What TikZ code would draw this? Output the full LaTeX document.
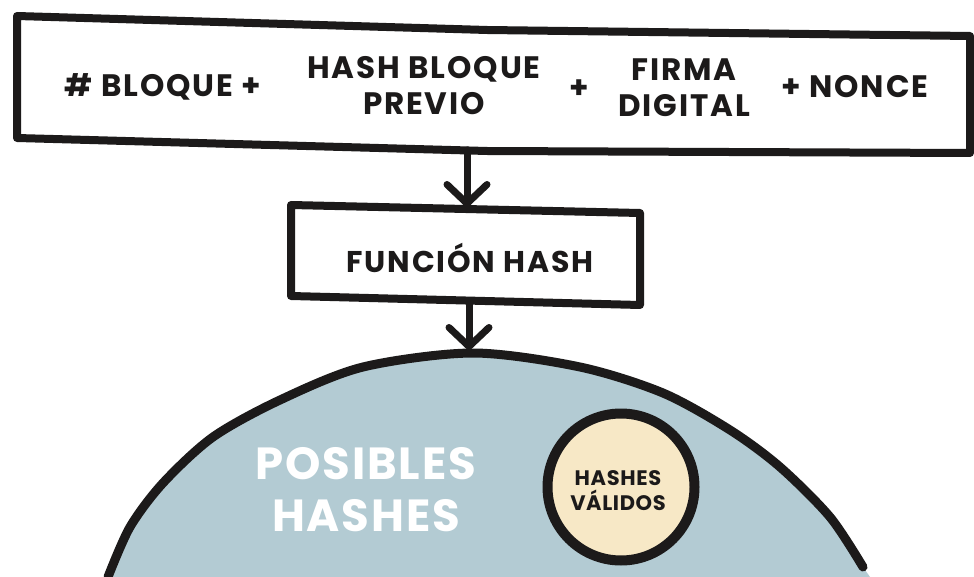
\documentclass[tikz,border=0pt]{standalone}
\usepackage{fontspec}
\setmainfont{Poppins}
\usetikzlibrary{arrows.meta}
\definecolor{domecol}{HTML}{B3CBD3}
\definecolor{creamcol}{HTML}{F7E8C6}
\definecolor{inkcol}{HTML}{1C1A1A}
\begin{document}
\begin{tikzpicture}[x=1pt,y=-1pt,
  lbl/.style={font=\bfseries\fontsize{31}{36}\selectfont\addfontfeatures{LetterSpace=6}, text=inkcol, align=center, inner sep=0pt},
  sketch/.style={draw=inkcol, line width=8pt, line join=round, line cap=round},
  arr/.style={draw=inkcol, line width=7pt, line cap=round, -{Straight Barb[length=19pt,width=40pt,round]}}]
\useasboundingbox (0,0) rectangle (974,577);
\fill[white] (0,0) rectangle (974,577);

% top box
\draw[sketch] (17,16) -- (487,30) -- (970,36) -- (970,153) -- (487,151) -- (17,138) -- cycle;
\node[lbl] (bloque) at (163,87) {\# BLOQUE +};
\node[lbl] (hashprev) at (424,86) {HASH BLOQUE\\PREVIO};
\node[lbl] (plus) at (579,89) {+};
\node[lbl] (firma) at (684,88) {FIRMA\\DIGITAL};
\node[lbl] (nonce) at (855,87) {+ NONCE};
\coordinate (topbot) at (467,150);

% function box
\draw[sketch] (291,205) -- (640,213) -- (640,305) -- (291,296) -- cycle;
\node[lbl, font=\bfseries\fontsize{30}{32}\selectfont\addfontfeatures{LetterSpace=6}] (func) at (470,258) {FUNCIÓN HASH};
\coordinate (functop) at (467,207);
\coordinate (funcbot) at (469,302);

% dome
\fill[domecol] plot[smooth] coordinates {(108,577) (130,527) (163,483) (213,437) (280,400) (363,367) (473,353) (580,367) (663,393) (730,430) (780,467) (830,517) (863,567)} -- (870,577) -- cycle;
\draw[draw=inkcol, line width=9pt, line cap=round] plot[smooth] coordinates {(108,577) (130,527) (163,483) (213,437) (280,400) (363,367) (473,353) (580,367) (663,393) (730,430) (780,467) (830,517) (863,567)};
\coordinate (dometop) at (469,350);

\node[font=\bfseries\fontsize{45}{52}\selectfont\addfontfeatures{LetterSpace=4}, text=white, align=center, inner sep=0pt] (posibles) at (366,490) {POSIBLES\\HASHES};

% valid circle
\node[circle, draw=inkcol, line width=10pt, fill=creamcol, minimum size=147pt, inner sep=0pt] (valid) at (621,487) {};
\node[lbl, font=\bfseries\fontsize{21}{25}\selectfont\addfontfeatures{LetterSpace=3}] (validtxt) at (618,491) {HASHES\\VÁLIDOS};

% arrows
\draw[arr] (topbot) -- (functop);
\draw[arr] (funcbot) -- (dometop);
\end{tikzpicture}
\end{document}
